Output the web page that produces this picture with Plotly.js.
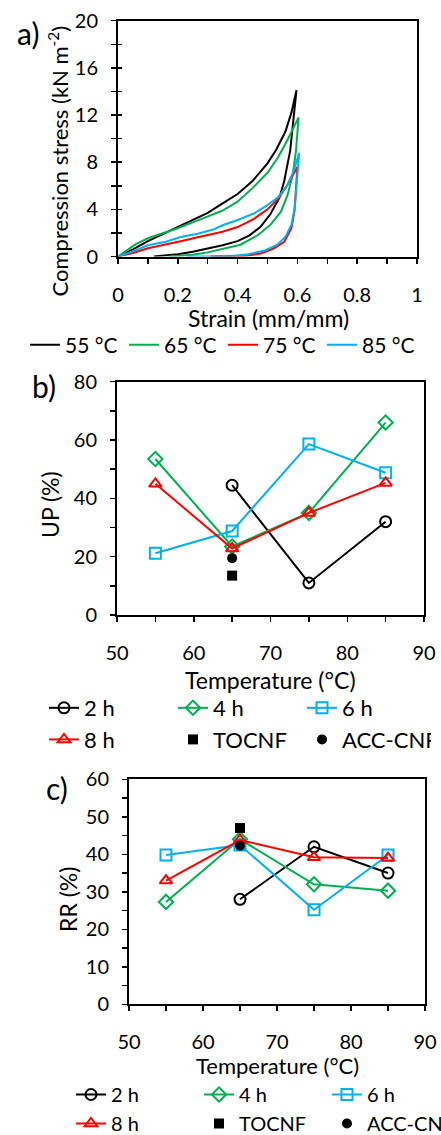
<!DOCTYPE html>
<html>
<head>
<meta charset="utf-8">
<script src="https://cdn.plot.ly/plotly-3.0.1.min.js"></script>
<style>html,body{margin:0;padding:0;background:#fff;overflow:hidden;}#chart{width:441px;height:1135px;}</style>
</head>
<body>
<div id="chart"></div>
<script>
// ---------- Panel a: compression stress-strain loops ----------
var strain55 = [0, 0.05, 0.1, 0.15, 0.2, 0.25, 0.3, 0.35, 0.4, 0.45, 0.5, 0.53, 0.56, 0.58, 0.597,
                0.585, 0.576, 0.556, 0.54, 0.51, 0.476, 0.44, 0.4, 0.35, 0.3, 0.25, 0.2, 0.15, 0.12];
var stress55 = [0, 0.6, 1.3, 1.9, 2.5, 3.1, 3.7, 4.5, 5.3, 6.4, 7.9, 9.1, 10.6, 12.2, 14.1,
                11.2, 9.0, 6.4, 5.0, 3.6, 2.5, 1.8, 1.3, 0.95, 0.65, 0.4, 0.2, 0.05, 0];
var strain65 = [0, 0.03, 0.06, 0.1, 0.15, 0.2, 0.25, 0.3, 0.35, 0.4, 0.45, 0.5, 0.535, 0.565, 0.585, 0.604,
                0.595, 0.584, 0.567, 0.545, 0.51, 0.467, 0.41, 0.355, 0.3, 0.25, 0.2, 0.17];
var stress65 = [0, 0.55, 1.05, 1.55, 1.95, 2.4, 2.9, 3.4, 3.9, 4.65, 5.8, 7.1, 8.4, 9.8, 10.9, 11.8,
                8.9, 6.9, 5.2, 3.8, 2.7, 1.8, 1.0, 0.7, 0.35, 0.15, 0.03, 0];
var strain75 = [0, 0.05, 0.1, 0.16, 0.21, 0.27, 0.32, 0.35, 0.4, 0.455, 0.5, 0.536, 0.565, 0.587, 0.6,
                0.596, 0.59, 0.58, 0.556, 0.522, 0.48, 0.424, 0.37, 0.31];
var stress75 = [0, 0.3, 0.7, 1.0, 1.3, 1.65, 1.95, 2.1, 2.5, 3.2, 4.0, 4.9, 6.0, 7.0, 7.6,
                6.0, 3.8, 2.4, 1.25, 0.7, 0.27, 0.05, 0.01, 0];
var strain85 = [0, 0.057, 0.1, 0.16, 0.21, 0.27, 0.32, 0.35, 0.4, 0.455, 0.5, 0.536, 0.565, 0.587, 0.606,
                0.598, 0.591, 0.58, 0.561, 0.533, 0.49, 0.435, 0.38, 0.3, 0.23];
var stress85 = [0, 0.5, 0.95, 1.25, 1.65, 1.95, 2.3, 2.65, 3.1, 3.65, 4.35, 5.05, 6.0, 7.2, 8.8,
                6.1, 4.1, 2.7, 1.7, 1.0, 0.5, 0.2, 0.05, 0.01, 0];
var loopLabels = ["55 \u00B0C", "65 \u00B0C", "75 \u00B0C", "85 \u00B0C"];

// ---------- Panels b and c ----------
var temperatures = [55, 65, 75, 85];
var refTemp = [65];
var UP_2h = [null, 44.5, 11, 32];
var UP_4h = [53.5, 23.5, 35, 66];
var UP_6h = [21.2, 28.8, 58.6, 48.8];
var UP_8h = [45, 22.8, 35, 45.3];
var UP_TOCNF = [13.5];
var UP_ACC = [19.5];

var RR_2h = [null, 28, 42, 35];
var RR_4h = [27.3, 44, 32, 30.3];
var RR_6h = [39.8, 42.5, 25.2, 39.8];
var RR_8h = [33, 43.8, 39.2, 39];
var RR_TOCNF = [47];
var RR_ACC = [42.3];

var seriesLabels = ["2 h", "4 h", "6 h", "8 h", "TOCNF", "ACC-CNF"];

var FONT = "Lato, 'Liberation Sans', sans-serif";
var BLACK = "#000000", GREEN = "#00B050", RED = "#FF0000", BLUE = "#00B0F0";

var traces = [];
function loop(x, y, name, color) {
  traces.push({x: x, y: y, name: name, type: "scatter", mode: "lines",
    line: {color: color, width: 2}, xaxis: "x", yaxis: "y", legend: "legend"});
}
loop(strain55, stress55, loopLabels[0], BLACK);
loop(strain65, stress65, loopLabels[1], GREEN);
loop(strain75, stress75, loopLabels[2], RED);
loop(strain85, stress85, loopLabels[3], BLUE);

function series(ax, lg, ys, name, color, symbol) {
  traces.push({x: temperatures, y: ys, name: name, type: "scatter", mode: "lines+markers",
    line: {color: color, width: 2},
    marker: {symbol: symbol, size: 11, color: color, line: {color: color, width: 2}},
    xaxis: "x" + ax, yaxis: "y" + ax, legend: lg});
}
function single(ax, lg, ys, name, symbol) {
  traces.push({x: refTemp, y: ys, name: name, type: "scatter", mode: "markers",
    marker: {symbol: symbol, size: 10, color: BLACK},
    xaxis: "x" + ax, yaxis: "y" + ax, legend: lg});
}
[[2, "legend2", [UP_2h, UP_4h, UP_6h, UP_8h], [UP_TOCNF, UP_ACC]],
 [3, "legend3", [RR_2h, RR_4h, RR_6h, RR_8h], [RR_TOCNF, RR_ACC]]].forEach(function (p) {
  var cols = [BLACK, GREEN, BLUE, RED];
  var syms = ["circle-open", "diamond-open", "square-open", "triangle-up-open"];
  for (var i = 0; i < 4; i++) series(p[0], p[1], p[2][i], seriesLabels[i], cols[i], syms[i]);
  single(p[0], p[1], p[3][0], seriesLabels[4], "square");
  single(p[0], p[1], p[3][1], seriesLabels[5], "circle");
});

var W = 441, H = 1135;
function px(x) { return x / W; }
function py(y) { return 1 - y / H; }

function ax(domain, range, dtick, minor, anchor, standoff) {
  return {domain: domain, range: range, dtick: dtick, tick0: range[0], anchor: anchor,
    showgrid: false, zeroline: false, showline: true, linecolor: BLACK, linewidth: 2, mirror: true,
    ticks: "outside", ticklen: 5, tickwidth: 1.5, tickcolor: BLACK, ticklabelstandoff: standoff,
    minor: {dtick: minor, ticks: "outside", ticklen: 5, tickwidth: 1.5, tickcolor: BLACK},
    tickfont: {family: FONT, size: 20, color: BLACK}, fixedrange: true, automargin: false};
}

var layout = {
  width: W, height: H, margin: {l: 0, r: 0, t: 0, b: 0, autoexpand: false},
  paper_bgcolor: "#fff", plot_bgcolor: "#fff",
  font: {family: FONT, color: BLACK},
  xaxis: ax([px(118), px(417)], [0, 1], 0.2, 0.1, "y", 14),
  yaxis: ax([py(256.5), py(20.7)], [0, 20], 4, 2, "x", 9),
  // inside half of the crossing ticks on panel a's stress axis
  yaxis4: {overlaying: "y", anchor: "x", side: "left", range: [0, 20], dtick: 2, tick0: 0,
    showline: false, showgrid: false, zeroline: false, showticklabels: false,
    ticks: "inside", ticklen: 4, tickwidth: 1.5, tickcolor: BLACK, fixedrange: true, automargin: false},
  xaxis2: ax([px(117), px(424)], [50, 90], 10, 5, "y2", 14),
  yaxis2: ax([py(615), py(381.7)], [0, 80], 20, 10, "x2", 9),
  xaxis3: ax([px(129), px(425)], [50, 90], 10, 5, "y3", 14),
  yaxis3: ax([py(1004.3), py(779.3)], [0, 60], 10, 5, "x3", 9),
  legend: {orientation: "h", x: px(25), xanchor: "left", y: py(345), yanchor: "middle",
    font: {family: FONT, size: 21, color: BLACK}, entrywidth: 54, bgcolor: "rgba(0,0,0,0)"},
  legend2: {orientation: "h", x: px(44), xanchor: "left", y: py(687), yanchor: "top",
    font: {family: FONT, size: 22, color: BLACK}, entrywidth: 84, bgcolor: "rgba(0,0,0,0)"},
  legend3: {orientation: "h", x: px(71), xanchor: "left", y: py(1075), yanchor: "top",
    font: {family: FONT, size: 20, color: BLACK}, entrywidth: 83, bgcolor: "rgba(0,0,0,0)"},
  annotations: []
};

// empty carrier trace so the overlay tick axis is drawn
traces.push({x: [0], y: [0], xaxis: "x", yaxis: "y4", type: "scatter", mode: "markers",
  marker: {opacity: 0}, showlegend: false, hoverinfo: "skip"});

function ann(text, x, y, size, angle) {
  layout.annotations.push({text: text, xref: "paper", yref: "paper", x: px(x), y: py(y),
    xanchor: "center", yanchor: "middle", showarrow: false, textangle: angle || 0,
    font: {family: FONT, size: size, color: BLACK}});
}
ann("a)", 28, 33, 30);
ann("b)", 44, 386, 30);
ann("c)", 57, 788, 30);
ann("Compression stress (kN m<sup>-2</sup>)", 58, 161.5, 22, -90);
ann("Strain (mm/mm)", 268, 318, 23);
ann("UP (%)", 50, 505, 23, -90);
ann("Temperature (\u00B0C)", 270, 680, 23);
ann("RR (%)", 68, 900, 23, -90);
ann("Temperature (\u00B0C)", 277, 1065, 22);

Plotly.newPlot("chart", traces, layout, {staticPlot: true, displayModeBar: false});
</script>
</body>
</html>
